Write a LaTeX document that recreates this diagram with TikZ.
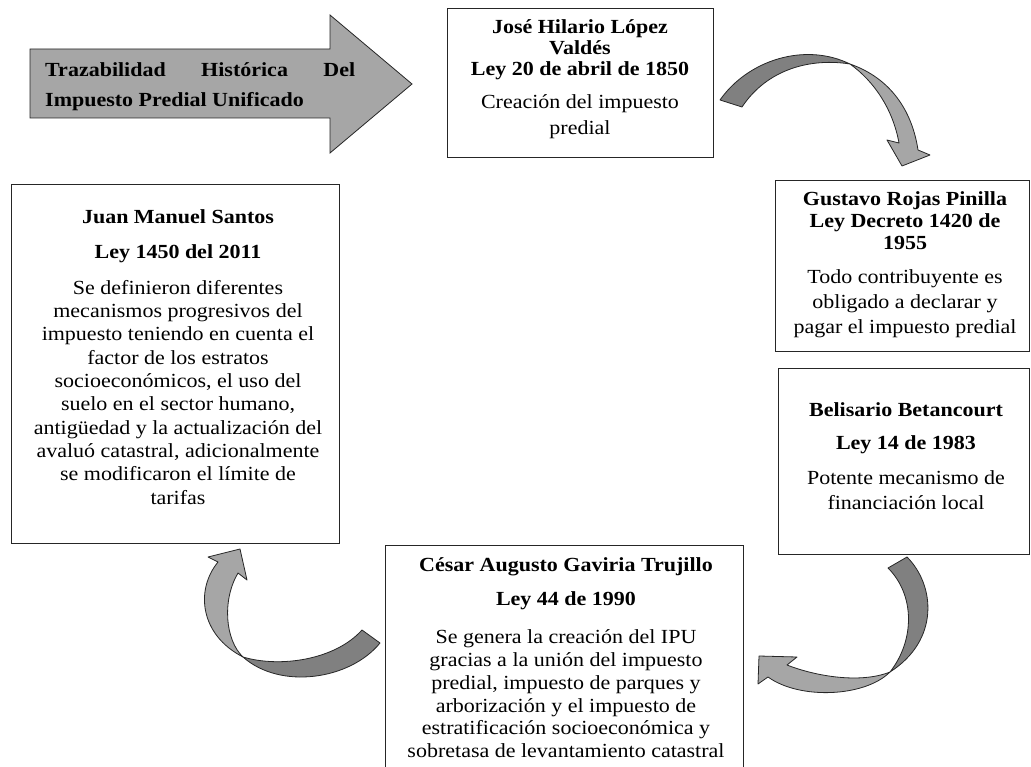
\documentclass[tikz,border=0pt]{standalone}
\usepackage{fontspec}
\setmainfont{Liberation Serif}[FakeStretch=1.1]
\definecolor{bandDark}{HTML}{808080}
\definecolor{bandLight}{HTML}{A6A6A6}
\definecolor{edgeC}{HTML}{262626}
\begin{document}
\begin{tikzpicture}[x=1pt,y=-1pt,
  box/.style={draw=edgeC, line width=0.9pt, fill=white, inner sep=0pt, anchor=north west},
  txt/.style={align=center, inner sep=0pt, anchor=north},
  darkband/.style={fill=bandDark, draw=edgeC, line width=0.8pt, line join=round},
  lightband/.style={fill=bandLight, draw=edgeC, line width=0.8pt, line join=round},
  bigarrow/.style={fill=bandLight, draw=edgeC, line width=0.8pt, line join=miter}]
\useasboundingbox (0,0) rectangle (1031,767);

% big title arrow
\draw[bigarrow] (30,49) -- (330,49) -- (330,15) -- (412,84) -- (330,153) -- (330,118) -- (30,118) -- cycle;
\node[inner sep=0pt, anchor=north west, align=left, font=\fontsize{20}{30}\selectfont\bfseries] (title) at (45,62)
  {\makebox[310pt][s]{Trazabilidad Histórica Del}\\Impuesto Predial Unificado};

% boxes
\node[box, minimum width=266pt, minimum height=149pt] (jose) at (447,8) {};
\node[box, minimum width=254pt, minimum height=171pt] (rojas) at (775,180) {};
\node[box, minimum width=251pt, minimum height=186pt] (betan) at (778,368) {};
\node[box, minimum width=358pt, minimum height=240pt] (gaviria) at (385,545) {};
\node[box, minimum width=328pt, minimum height=359pt] (santos) at (11,184) {};

% texts
\node[txt, font=\fontsize{20}{21}\selectfont] (josetxt) at (580,19)
  {\textbf{José Hilario López}\\\textbf{Valdés}\\\textbf{Ley 20 de abril de 1850}\\[12pt]Creación del impuesto\\[5pt]predial};
\node[txt, font=\fontsize{20}{22}\selectfont] (rojastxt) at (905,191)
  {\textbf{Gustavo Rojas Pinilla}\\\textbf{Ley Decreto 1420 de}\\\textbf{1955}\\[12pt]Todo contribuyente es\\[3pt]obligado a declarar y\\[3pt]pagar el impuesto predial};
\node[txt, font=\fontsize{20}{22}\selectfont] (betantxt) at (906,402)
  {\textbf{Belisario Betancourt}\\[11pt]\textbf{Ley 14 de 1983}\\[13pt]Potente mecanismo de\\[3pt]financiación local};
\node[txt, font=\fontsize{20}{22.8}\selectfont] (gaviriatxt) at (566,557)
  {\textbf{César Augusto Gaviria Trujillo}\\[12pt]\textbf{Ley 44 de 1990}\\[15pt]Se genera la creación del IPU\\gracias a la unión del impuesto\\predial, impuesto de parques y\\arborización y el impuesto de\\estratificación socioeconómica y\\sobretasa de levantamiento catastral};
\node[txt, font=\fontsize{20}{23.3}\selectfont] (santostxt) at (178,209)
  {\textbf{Juan Manuel Santos}\\[11.7pt]\textbf{Ley 1450 del 2011}\\[13pt]Se definieron diferentes\\mecanismos progresivos del\\impuesto teniendo en cuenta el\\factor de los estratos\\socioeconómicos, el uso del\\suelo en el sector humano,\\antigüedad y la actualización del\\avaluó catastral, adicionalmente\\se modificaron el límite de\\tarifas};

% curved arrow 1: jose -> rojas
\coordinate (xa) at (850,64);
\draw[darkband] (720,100) .. controls (748,60) and (805,42) .. (xa)
  .. controls (812,58) and (768,68) .. (742,107) -- cycle;
\draw[lightband] (xa) .. controls (890,78) and (912,110) .. (918,150)
  -- (930,155) -- (902,166) -- (887,140) -- (899,143)
  .. controls (893,110) and (875,82) .. (xa) -- cycle;

% curved arrow 2: betan -> gaviria
\coordinate (xb) at (890,672);
\draw[darkband] (907,557) .. controls (935,585) and (940,640) .. (xb)
  .. controls (915,640) and (915,595) .. (888,568) -- cycle;
\draw[lightband] (xb) .. controls (865,697) and (800,700) .. (768,677)
  -- (758,684) -- (759,656) -- (797,657) -- (787,665)
  .. controls (815,676) and (860,684) .. (xb) -- cycle;

% curved arrow 3: gaviria -> santos
\coordinate (xc) at (243,657);
\draw[darkband] (380,643) .. controls (350,680) and (280,690) .. (xc)
  .. controls (280,668) and (335,660) .. (362,630) -- cycle;
\draw[lightband] (xc) .. controls (200,635) and (195,590) .. (218,562)
  -- (208,557) -- (240,549) -- (247,580) -- (238,573)
  .. controls (222,600) and (225,640) .. (xc) -- cycle;
\end{tikzpicture}
\end{document}
